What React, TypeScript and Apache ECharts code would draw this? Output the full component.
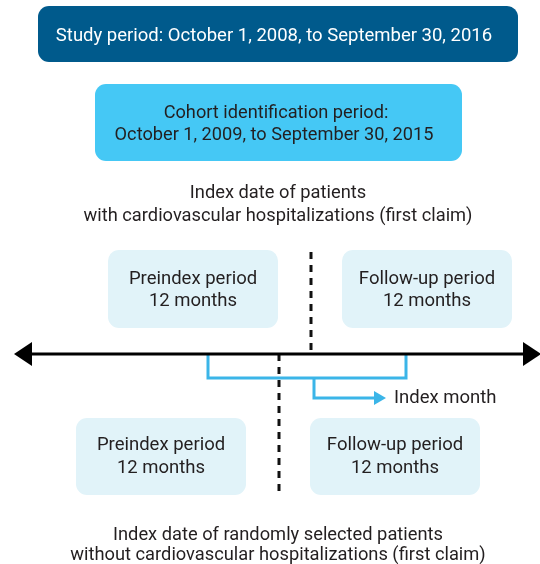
import React, { useEffect, useRef } from "react";
import * as echarts from "echarts";

const studyPeriod = "Study period: October 1, 2008, to September 30, 2016";
const cohortLines = ["Cohort identification period:", "October 1, 2009, to September 30, 2015"];
const upperCaption = ["Index date of patients", "with cardiovascular hospitalizations (first claim)"];
const lowerCaption = ["Index date of randomly selected patients", "without cardiovascular hospitalizations (first claim)"];
const preindexLabel = ["Preindex period", "12 months"];
const followupLabel = ["Follow-up period", "12 months"];
const indexMonthLabel = "Index month";

const FONT = "Roboto, 'Noto Sans', sans-serif";
const DARK = "#231f20";
const BLUE = "#3bb5e8";

function box(x: number, y: number, w: number, h: number, fill: string, r: number) {
  return { type: "rect", shape: { x, y, width: w, height: h, r }, style: { fill } };
}
function text(x: number, y: number, t: string, fill: string, size: number, align = "center") {
  return {
    type: "text",
    x,
    y,
    style: { text: t, fill, font: `${size}px ${FONT}`, textAlign: align, textVerticalAlign: "middle" },
  };
}

export default function App() {
  const ref = useRef<HTMLDivElement>(null);
  useEffect(() => {
    const chart = echarts.init(ref.current!, null, { renderer: "svg" });
    const els: any[] = [];
    // top box
    els.push(box(38, 6, 480, 56, "#005a8c", 11));
    els.push(text(274, 35, studyPeriod, "#ffffff", 18.5));
    // cohort box
    els.push(box(95, 84, 367, 77, "#45c8f5", 11));
    els.push(text(276, 111, cohortLines[0], DARK, 18.2));
    els.push(text(274, 133, cohortLines[1], DARK, 18.2));
    // upper caption
    els.push(text(278, 191, upperCaption[0], DARK, 18.3));
    els.push(text(278, 214, upperCaption[1], DARK, 18.3));
    // upper boxes
    els.push(box(108, 250, 170, 78, "#e1f3f9", 11));
    els.push(text(193, 278, preindexLabel[0], DARK, 18.5));
    els.push(text(193, 300, preindexLabel[1], DARK, 18.5));
    els.push(box(342, 250, 170, 78, "#e1f3f9", 11));
    els.push(text(427, 278, followupLabel[0], DARK, 18.5));
    els.push(text(427, 300, followupLabel[1], DARK, 18.5));
    // lower boxes
    els.push(box(76, 418, 170, 77, "#e1f3f9", 11));
    els.push(text(161, 444, preindexLabel[0], DARK, 18.5));
    els.push(text(161, 467, preindexLabel[1], DARK, 18.5));
    els.push(box(310, 418, 170, 77, "#e1f3f9", 11));
    els.push(text(395, 444, followupLabel[0], DARK, 18.5));
    els.push(text(395, 467, followupLabel[1], DARK, 18.5));
    // lower caption
    els.push(text(278, 533, lowerCaption[0], DARK, 18.3));
    els.push(text(278, 553, lowerCaption[1], DARK, 18.3));
    // dotted lines
    els.push({ type: "line", shape: { x1: 311, y1: 252, x2: 311, y2: 354 }, style: { stroke: "#111", lineWidth: 3, lineDash: [7, 6] } });
    els.push({ type: "line", shape: { x1: 279, y1: 354, x2: 279, y2: 496 }, style: { stroke: "#111", lineWidth: 3, lineDash: [7, 6] } });
    // blue bracket
    els.push({ type: "polyline", shape: { points: [[208, 354], [208, 378], [406, 378], [406, 354]] }, style: { stroke: BLUE, lineWidth: 3, fill: "none" } });
    els.push({ type: "polyline", shape: { points: [[314, 378], [314, 398], [376, 398]] }, style: { stroke: BLUE, lineWidth: 3, fill: "none" } });
    els.push({ type: "polygon", shape: { points: [[374, 391], [386, 398], [374, 405]] }, style: { fill: BLUE } });
    els.push(text(394, 397, indexMonthLabel, DARK, 18.5, "left"));
    // timeline
    els.push({ type: "line", shape: { x1: 26, y1: 354, x2: 530, y2: 354 }, style: { stroke: "#000", lineWidth: 3 } });
    els.push({ type: "polygon", shape: { points: [[14, 354], [32, 342], [32, 366]] }, style: { fill: "#000" } });
    els.push({ type: "polygon", shape: { points: [[541, 354], [523, 342], [523, 366]] }, style: { fill: "#000" } });

    chart.setOption({ animation: false, graphic: { elements: els } });
    return () => chart.dispose();
  }, []);
  return <div ref={ref} style={{ position: "fixed", left: 0, top: 0, width: 540, height: 564 }} />;
}
